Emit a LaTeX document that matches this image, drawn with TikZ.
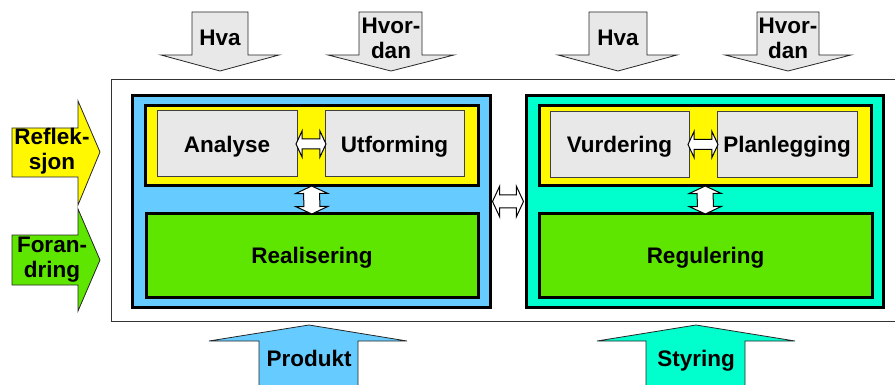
\documentclass[tikz,border=0pt]{standalone}
\usepackage{fontspec}
\setmainfont{Liberation Sans}
\usetikzlibrary{shapes.arrows}

\definecolor{procblue}{RGB}{102,204,255}
\definecolor{procteal}{RGB}{0,255,204}
\definecolor{phaseyellow}{RGB}{255,248,0}
\definecolor{actgreen}{RGB}{95,230,0}
\definecolor{stepgray}{RGB}{232,232,232}

\begin{document}
\begin{tikzpicture}[x=1pt, y=-1pt,
    every node/.style={font=\bfseries\fontsize{22.5}{25}\selectfont, align=center, inner sep=0pt},
    oneline/.style={text depth=0pt},
    bigbox/.style={draw, line width=3pt, minimum width=#1, oneline},
    stepbox/.style={draw=black!75, line width=1pt, fill=stepgray, minimum width=140pt, minimum height=66pt, oneline},
    inarrow/.style={draw=black!85, line width=0.8pt},
    dblarrow/.style={draw, line width=1pt, fill=white, shape=double arrow, double arrow head extend=8pt,
                     double arrow tip angle=130, sloped}]
  \useasboundingbox (0,0) rectangle (895,385);

  \draw[inarrow, fill=stepgray] (192,12) -- (248,12) -- (248,55) -- (279,55) -- (220,71) -- (161,55) -- (192,55) -- cycle;
  \draw[inarrow, fill=stepgray] (359,12) -- (422,12) -- (422,55) -- (454,55) -- (391,71) -- (328,55) -- (359,55) -- cycle;
  \draw[inarrow, fill=stepgray] (589,12) -- (647,12) -- (647,55) -- (677,55) -- (618,71) -- (558,55) -- (589,55) -- cycle;
  \draw[inarrow, fill=stepgray] (757,12) -- (819,12) -- (819,55) -- (851,55) -- (788,71) -- (725,55) -- (757,55) -- cycle;
  \node[oneline] (hva1) at (220,37.5) {Hva};
  \node (hvordan1) at (391,38) {Hvor-\\dan};
  \node[oneline] (hva2) at (618,37.5) {Hva};
  \node (hvordan2) at (788,38) {Hvor-\\dan};

  \draw[inarrow, fill=phaseyellow] (12,128) -- (78,128) -- (78,101) -- (100,152) -- (78,205) -- (78,177) -- (12,177) -- cycle;
  \draw[inarrow, fill=actgreen] (12,235) -- (78,235) -- (78,209) -- (100,260) -- (78,311) -- (78,285) -- (12,285) -- cycle;
  \node (refleksjon) at (52,151) {Reflek-\\sjon};
  \node (forandring) at (52,260) {Foran-\\dring};

  \draw[inarrow, fill=procblue] (259,390) -- (259,341) -- (209,341) -- (309,325) -- (407,341) -- (358,341) -- (358,390) -- cycle;
  \draw[inarrow, fill=procteal] (646,390) -- (646,341) -- (597,341) -- (696,325) -- (795,341) -- (745,341) -- (745,390) -- cycle;
  \node[oneline] (produkt) at (309,358.5) {Produkt};
  \node[oneline] (styring) at (696,358.5) {Styring};

  \node[draw=black!80, line width=1pt, minimum width=786pt, minimum height=241pt] (frame) at (504,200.5) {};

  \node[bigbox=358pt, fill=procblue, minimum height=211pt] (prod) at (311,201.5) {};
  \node[bigbox=333pt, fill=phaseyellow, minimum height=80pt] (refl1) at (311.5,146) {};
  \node[bigbox=332pt, fill=actgreen, minimum height=83pt] (real) at (312,255.5) {Realisering};
  \node[stepbox] (analyse) at (227,144) {Analyse};
  \node[stepbox, minimum width=139pt] (utforming) at (394.5,144) {Utforming};

  \node[bigbox=357pt, fill=procteal, minimum height=211pt] (styr) at (704.5,201.5) {};
  \node[bigbox=332pt, fill=phaseyellow, minimum height=80pt] (refl2) at (705,146) {};
  \node[bigbox=333pt, fill=actgreen, minimum height=83pt] (reg) at (705.5,255.5) {Regulering};
  \node[stepbox, minimum width=139pt] (vurdering) at (619.5,144.5) {Vurdering};
  \node[stepbox] (planlegging) at (787,144.5) {Planlegging};

  \path (analyse) -- node[dblarrow, minimum height=30pt, inner ysep=4.5pt] {} (utforming);
  \path (vurdering) -- node[dblarrow, minimum height=30pt, inner ysep=4.5pt] {} (planlegging);
  \path (refl1) -- node[dblarrow, minimum height=28pt, inner ysep=7.5pt] {} (real);
  \path (refl2) -- node[dblarrow, minimum height=28pt, inner ysep=7.5pt] {} (reg);
  \path (prod) -- node[dblarrow, minimum height=31pt, inner ysep=6pt, double arrow head extend=9pt] {} (styr);
\end{tikzpicture}
\end{document}
